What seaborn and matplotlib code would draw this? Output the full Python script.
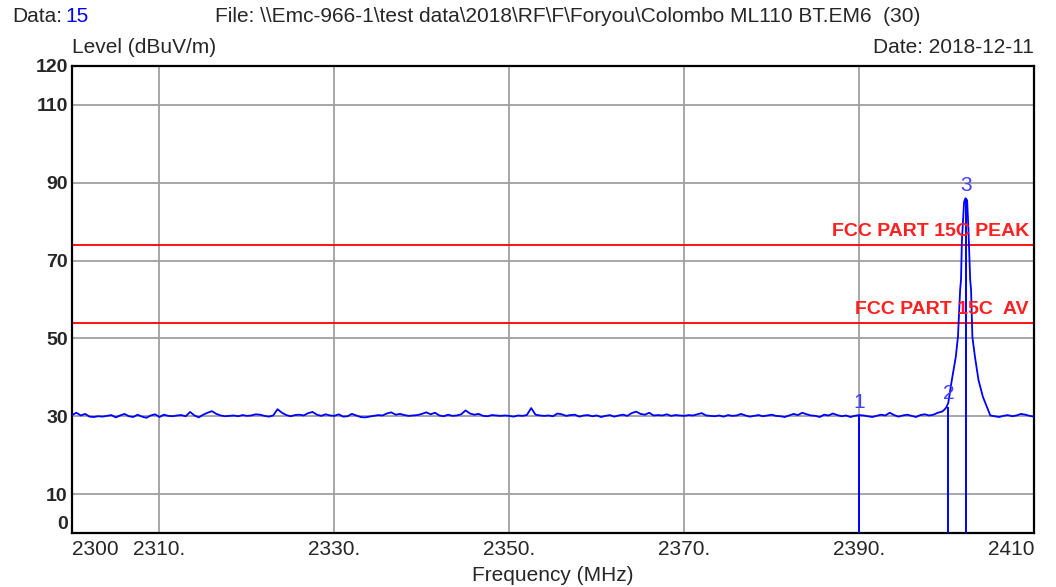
import numpy as np
import pandas as pd
import matplotlib.pyplot as plt
import seaborn as sns

# noise floor, 0.5 MHz sweep steps, 2300 .. 2399 MHz
floor_start = 2300.0
floor_step = 0.5
floor_level = [
    30.3, 30.9, 30.2, 30.6, 29.9, 29.8, 30.0, 29.9, 30.1, 30.3, 29.7, 30.2, 30.6, 30.0, 29.8, 30.4, 29.9, 29.6, 30.2, 30.5,
    29.8, 30.4, 30.1, 30.0, 30.2, 30.3, 30.0, 31.1, 30.2, 29.7, 30.4, 30.9, 31.3, 30.6, 30.2, 30.0, 30.1, 30.2, 30.0, 30.3,
    30.1, 30.2, 30.5, 30.4, 30.1, 29.9, 30.2, 31.8, 30.9, 30.3, 30.0, 30.3, 30.4, 30.2, 30.8, 31.1, 30.4, 30.1, 30.5, 30.2,
    30.1, 30.5, 29.9, 30.0, 30.6, 30.2, 29.8, 29.7, 29.9, 30.1, 30.3, 30.2, 30.7, 31.0, 30.4, 30.6, 30.3, 30.1, 30.2, 30.3,
    30.6, 31.0, 30.5, 30.9, 30.2, 30.0, 30.4, 30.1, 30.2, 30.5, 31.5, 30.7, 30.4, 30.6, 30.1, 30.0, 30.3, 30.2, 30.1, 30.2,
    30.1, 29.9, 30.2, 30.1, 30.3, 32.1, 30.4, 30.2, 30.1, 30.2, 30.0, 30.7, 30.5, 30.1, 30.3, 30.4, 29.9, 30.2, 30.3, 30.0,
    30.2, 29.8, 30.1, 30.3, 29.9, 30.2, 30.4, 30.1, 30.8, 31.2, 30.6, 30.4, 30.9, 30.2, 30.3, 30.2, 30.5, 30.1, 30.3, 30.2,
    30.1, 30.3, 30.2, 30.5, 30.8, 30.2, 30.1, 30.0, 30.2, 29.9, 30.3, 30.1, 30.2, 30.6, 30.2, 29.9, 30.1, 30.3, 30.0, 30.2,
    30.4, 30.1, 30.0, 29.8, 30.2, 30.6, 30.3, 30.9, 30.5, 30.2, 30.1, 29.8, 30.4, 30.2, 30.7, 30.3, 30.0, 30.2, 29.8, 30.1,
    30.3, 30.2, 30.0, 29.8, 30.1, 30.4, 30.2, 30.9, 30.3, 29.9, 30.2, 30.4, 30.1, 29.8, 30.3, 30.5, 30.2, 30.4, 30.9,
]

# carrier peak around 2402 MHz
peak_freq = [2399.5, 2399.8, 2400.0, 2400.2, 2400.6, 2401.05, 2401.3, 2401.55, 2401.65, 2401.75, 2402.0,
             2402.15, 2402.35, 2402.5, 2402.7, 2402.8, 2402.95, 2403.25, 2403.65, 2404.15, 2404.75]
peak_level = [31.2, 31.8, 32.4, 33.5, 39.3, 45.2, 50.4, 62.5, 65.0, 75.0, 85.0,
              86.0, 85.5, 78.0, 65.0, 62.5, 50.4, 45.2, 39.3, 35.0, 31.6]

# noise floor after the peak, 2405 .. 2410 MHz
tail_start = 2405.0
tail_level = [30.2, 30.0, 29.8, 30.1, 30.3, 30.0, 30.2, 30.6, 30.4, 30.1, 29.9]

marker_no = ["1", "2", "3"]
marker_freq = [2390.0, 2400.2, 2402.2]
marker_level = [30.3, 32.5, 86.0]

limit_names = ["FCC PART 15C PEAK", "FCC PART 15C  AV"]
limit_values = [74, 54]

xticks = [2300, 2310, 2330, 2350, 2370, 2390, 2410]
xtick_labels = ["2300", "2310.", "2330.", "2350.", "2370.", "2390.", "2410"]
yticks = [0, 10, 30, 50, 70, 90, 110, 120]

floor_freq = floor_start + floor_step * np.arange(len(floor_level))
tail_freq = tail_start + floor_step * np.arange(len(tail_level))
trace = pd.DataFrame({
    "freq": np.concatenate([floor_freq, peak_freq, tail_freq]),
    "level": np.concatenate([floor_level, peak_level, tail_level]),
})

sns.set_style("white")
plt.rcParams["font.family"] = ["Liberation Sans", "DejaVu Sans"]

fig = plt.figure(figsize=(10.56, 5.87), dpi=100)
ax = fig.add_axes([0.0682, 0.092, 0.911, 0.7956])

for f in xticks[1:-1]:
    ax.axvline(f, color="#a0a0a0", lw=1.3, zorder=1)
for y in yticks[1:-1]:
    ax.axhline(y, color="#a0a0a0", lw=1.3, zorder=1)

for name, val in zip(limit_names, limit_values):
    ax.axhline(val, color="#ff0000", lw=1.3, zorder=2)
    ax.text(2409.4, val + 1.2, name, color="#ff2020", fontsize=14, fontweight="bold",
            ha="right", va="bottom", zorder=4)

sns.lineplot(data=trace, x="freq", y="level", ax=ax, color="#0000ff", lw=1.3,
             sort=False, estimator=None, zorder=3)

ax.vlines(marker_freq, 0, marker_level, color="#0000ff", lw=1.4, zorder=3)
for n, f, v in zip(marker_no, marker_freq, marker_level):
    ax.text(f, v + 0.8, n, color="#4040ff", fontsize=15, ha="center", va="bottom", zorder=4)

ax.set_xlim(2300, 2410)
ax.set_ylim(0, 120)
ax.set_xticks(xticks)
ax.set_xticklabels(xtick_labels, fontsize=15)
ax.set_yticks(yticks)
ax.set_yticklabels([str(t) for t in yticks], fontsize=14, fontweight="bold")
ax.tick_params(axis="x", length=0, pad=5)
ax.tick_params(axis="y", length=0, pad=3)
xl = ax.get_xticklabels()
xl[0].set_ha("left")
xl[-1].set_ha("right")
yl = ax.get_yticklabels()
yl[0].set_va("bottom")
ax.set_xlabel("Frequency (MHz)", fontsize=15, labelpad=5)
ax.set_ylabel("")

for s in ax.spines.values():
    s.set_color("black")
    s.set_linewidth(1.6)

fig.text(0.0682, 0.903, "Level (dBuV/m)", fontsize=15, ha="left", va="bottom")
fig.text(0.979, 0.903, "Date: 2018-12-11", fontsize=15, ha="right", va="bottom")
fig.text(0.012, 0.972, "Data:", fontsize=15, ha="left", va="center")
fig.text(0.062, 0.972, "15", fontsize=15, color="#0000ff", ha="left", va="center")
fig.text(0.204, 0.972, r"File: \\Emc-966-1\test data\2018\RF\F\Foryou\Colombo ML110 BT.EM6  (30)",
         fontsize=15, ha="left", va="center")

fig.savefig("out.png", dpi=100)
